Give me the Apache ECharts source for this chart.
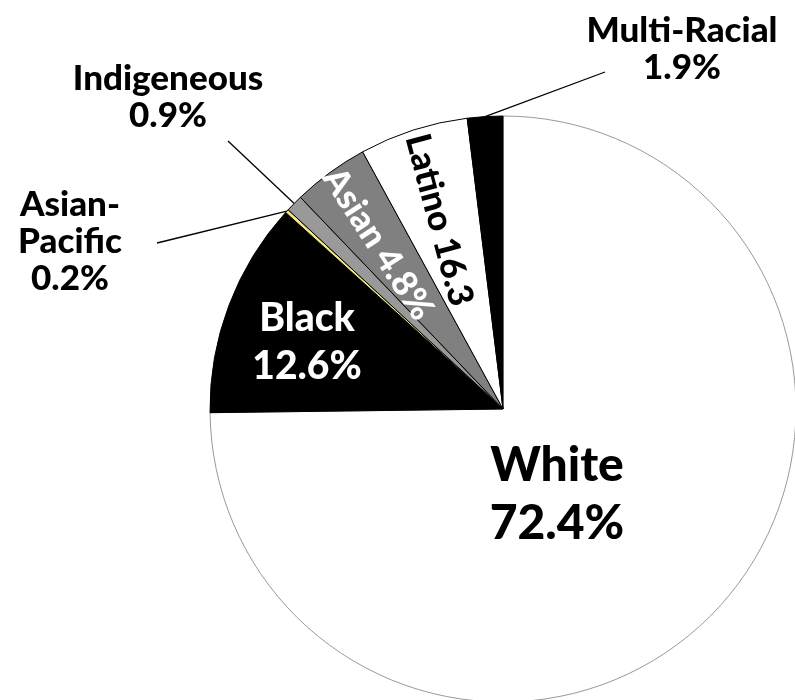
<!DOCTYPE html>
<html>
<head>
<meta charset="utf-8">
<script src="https://cdn.jsdelivr.net/npm/echarts@6/dist/echarts.min.js"></script>
<style>
  html, body { margin: 0; padding: 0; background: #fff; }
  #chart { width: 795px; height: 700px; }
</style>
</head>
<body>
<div id="chart"></div>
<script>
// slices in drawing order, clockwise from 12 o'clock
var categories = ['White', 'Black', 'Asian-Pacific', 'Indigeneous', 'Asian', 'Latino', 'Multi-Racial'];
// share of the circle each slice takes, as drawn (%)
var sliceShares = [74.8, 11.9, 0.2, 0.95, 4.2, 6.0, 1.95];
// the figures printed in the labels
var labelFigures = ['72.4%', '12.6%', '0.2%', '0.9%', '4.8%', '16.3', '1.9%'];

var sliceColors = ['#ffffff', '#000000', '#f7e784', '#999999', '#808080', '#ffffff', '#000000'];
var labelNames = {'Asian-Pacific': 'Asian-\nPacific'};

// where each label sits; outside ones also get the end of their leader line
var labelPlace = {
    'White':         {x: 557, y: 495},
    'Black':         {x: 307, y: 342},
    'Asian':         {x: 378, y: 244, rotate: -57},
    'Latino':        {x: 439, y: 220, rotate: -75},
    'Asian-Pacific': {x: 70, y: 242, end: [157, 243]},
    'Indigeneous':   {x: 168, y: 97, end: [228, 141]},
    'Multi-Racial':  {x: 682, y: 49, end: [605, 72]}
};

var FONT = 'Lato, "Open Sans", sans-serif';

var data = [];
for (var i = 0; i < categories.length; i++) {
    var name = categories[i];
    var p = labelPlace[name];
    var outside = p.end !== undefined;
    var item = {
        name: name,
        value: sliceShares[i],
        itemStyle: {
            color: sliceColors[i],
            borderColor: name === 'White' ? '#9a9a9a' : '#000',
            borderWidth: 1
        },
        label: {
            position: outside ? 'outside' : 'inside',
            color: (name === 'Black' || name === 'Asian') ? '#fff' : '#000',
            fontSize: name === 'White' ? 48 : (outside ? 35 : 39),
            lineHeight: name === 'White' ? 58 : (outside ? 37 : 48)
        },
        labelLine: {show: outside, lineStyle: {color: '#000', width: 1.3}}
    };
    if (name === 'Asian' || name === 'Latino') {
        item.label.fontSize = 35;
    }
    data.push(item);
}

var myChart = echarts.init(document.getElementById('chart'));
var option = {
    backgroundColor: '#fff',
    animation: false,
    series: [{
        type: 'pie',
        center: [503, 409],
        radius: [0, 293],
        startAngle: 90,
        clockwise: true,
        avoidLabelOverlap: false,
        label: {
            fontFamily: FONT,
            fontWeight: 900,
            align: 'center',
            formatter: function (params) {
                var i = params.dataIndex;
                var nm = labelNames[params.name] || params.name;
                var sep = labelPlace[params.name].rotate ? ' ' : '\n';
                return nm + sep + labelFigures[i];
            }
        },
        labelLayout: function (params) {
            var name = categories[params.dataIndex];
            var p = labelPlace[name];
            var out = {x: p.x, y: p.y, align: 'center', verticalAlign: 'middle'};
            if (p.rotate) {
                out.rotate = p.rotate;
            }
            if (p.end) {
                var start = params.labelLinePoints ? params.labelLinePoints[0] : p.end;
                out.labelLinePoints = [start, p.end, p.end];
            }
            return out;
        },
        data: data
    }]
};
myChart.setOption(option);
</script>
</body>
</html>
